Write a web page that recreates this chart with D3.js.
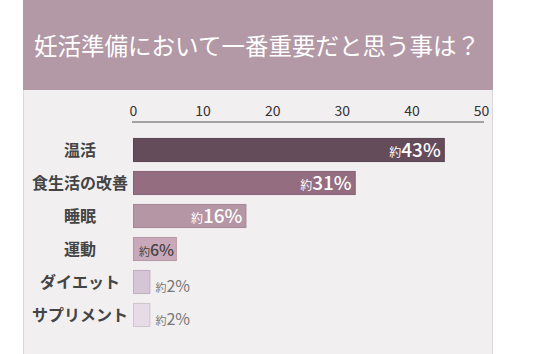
<!DOCTYPE html>
<html>
<head>
<meta charset="utf-8">
<script src="https://cdn.jsdelivr.net/npm/d3@7"></script>
<style>
  body { margin: 0; background: #fff; }
  svg { display: block; font-family: "Noto Sans CJK JP", "Noto Sans", sans-serif; }
</style>
</head>
<body>
<div id="chart"></div>
<script>
var w = 536
var h = 354

var title = "妊活準備において一番重要だと思う事は？"
var categories = ["温活", "食生活の改善", "睡眠", "運動", "ダイエット", "サプリメント"]
var values = [44.8, 32, 16.3, 6.3, 2.5, 2.5]
var valueLabels = ["43%", "31%", "16%", "6%", "2%", "2%"]
var ticks = [0, 10, 20, 30, 40, 50]
var colors = ["#654c5a", "#946d80", "#b596a5", "#c9a9b9", "#d6c4d7", "#e6dbe6"]

var svg = d3.select("#chart").append("svg").attr("width", w).attr("height", h)

// card
svg.append("rect").attr("x", 23.5).attr("y", 0).attr("width", 469).attr("height", h + 2)
    .attr("fill", "#f2eff0").attr("stroke", "#dcd8da").attr("stroke-width", 1)
svg.append("rect").attr("x", 23).attr("y", 0).attr("width", 470).attr("height", 90)
    .attr("fill", "#b398a5")
svg.append("text").attr("x", 257).attr("y", 55).attr("text-anchor", "middle")
    .attr("fill", "#fff").style("font-size", "23.5px")
    .text(title)

var x = d3.scaleLinear().domain([0, 50]).range([133, 481])
var y = d3.scaleBand().domain(categories).range([133.5, 331.5])
    .paddingInner(0.27).paddingOuter(0.135)

// axis on top
var axis = svg.append("g").attr("transform", "translate(0,122)")
    .call(d3.axisTop(x).tickValues(ticks).tickSize(0).tickPadding(6))
axis.select(".domain").attr("stroke", "#8a8a8a").attr("stroke-width", 1.5)
    .attr("d", "M132,0H484")
axis.selectAll("text").attr("fill", "#333").style("font-size", "14px")
    .style("font-family", "'Noto Sans CJK JP', sans-serif")

// category labels
svg.selectAll(".cat")
    .data(categories)
    .enter()
    .append("text")
    .attr("class", "cat")
    .attr("x", 80)
    .attr("y", function(d){ return y(d) + y.bandwidth() / 2 + 5.5 })
    .attr("text-anchor", "middle")
    .attr("fill", "#444")
    .style("font-size", "16px")
    .style("font-weight", "bold")
    .text(function(d){ return d })

// bars
svg.selectAll(".bar")
    .data(values)
    .enter()
    .append("rect")
    .attr("class", "bar")
    .attr("x", x(0) + 0.5)
    .attr("y", function(d, i){ return y(categories[i]) + 0.5 })
    .attr("width", function(d){ return x(d) - x(0) - 1 })
    .attr("height", y.bandwidth() - 1)
    .attr("fill", function(d, i){ return colors[i] })
    .attr("stroke", function(d, i){ return d3.color(colors[i]).darker(0.3) })
    .attr("stroke-width", 1)

// value labels
var lab = svg.selectAll(".val")
    .data(values)
    .enter()
    .append("text")
    .attr("class", "val")
    .attr("y", function(d, i){ return y(categories[i]) + y.bandwidth() / 2 + 6.5 })
    .attr("x", function(d, i){
        if (i < 3) return x(d) - 4
        if (i == 3) return x(0) + 6
        return x(d) + 5
    })
    .attr("text-anchor", function(d, i){ return i < 3 ? "end" : "start" })
    .attr("fill", function(d, i){ return i < 3 ? "#fff" : (i == 3 ? "#444" : "#777") })
    .attr("dy", function(d, i){ return i > 3 ? 3 : 0 })

lab.append("tspan").style("font-size", function(d, i){ return i < 3 ? "12px" : "11px" }).text("約")
lab.append("tspan")
    .style("font-size", function(d, i){ return i < 3 ? "19px" : "16px" })
    .style("font-weight", function(d, i){ return i <= 3 ? "500" : "normal" })
    .text(function(d, i){ return valueLabels[i] })
</script>
</body>
</html>
